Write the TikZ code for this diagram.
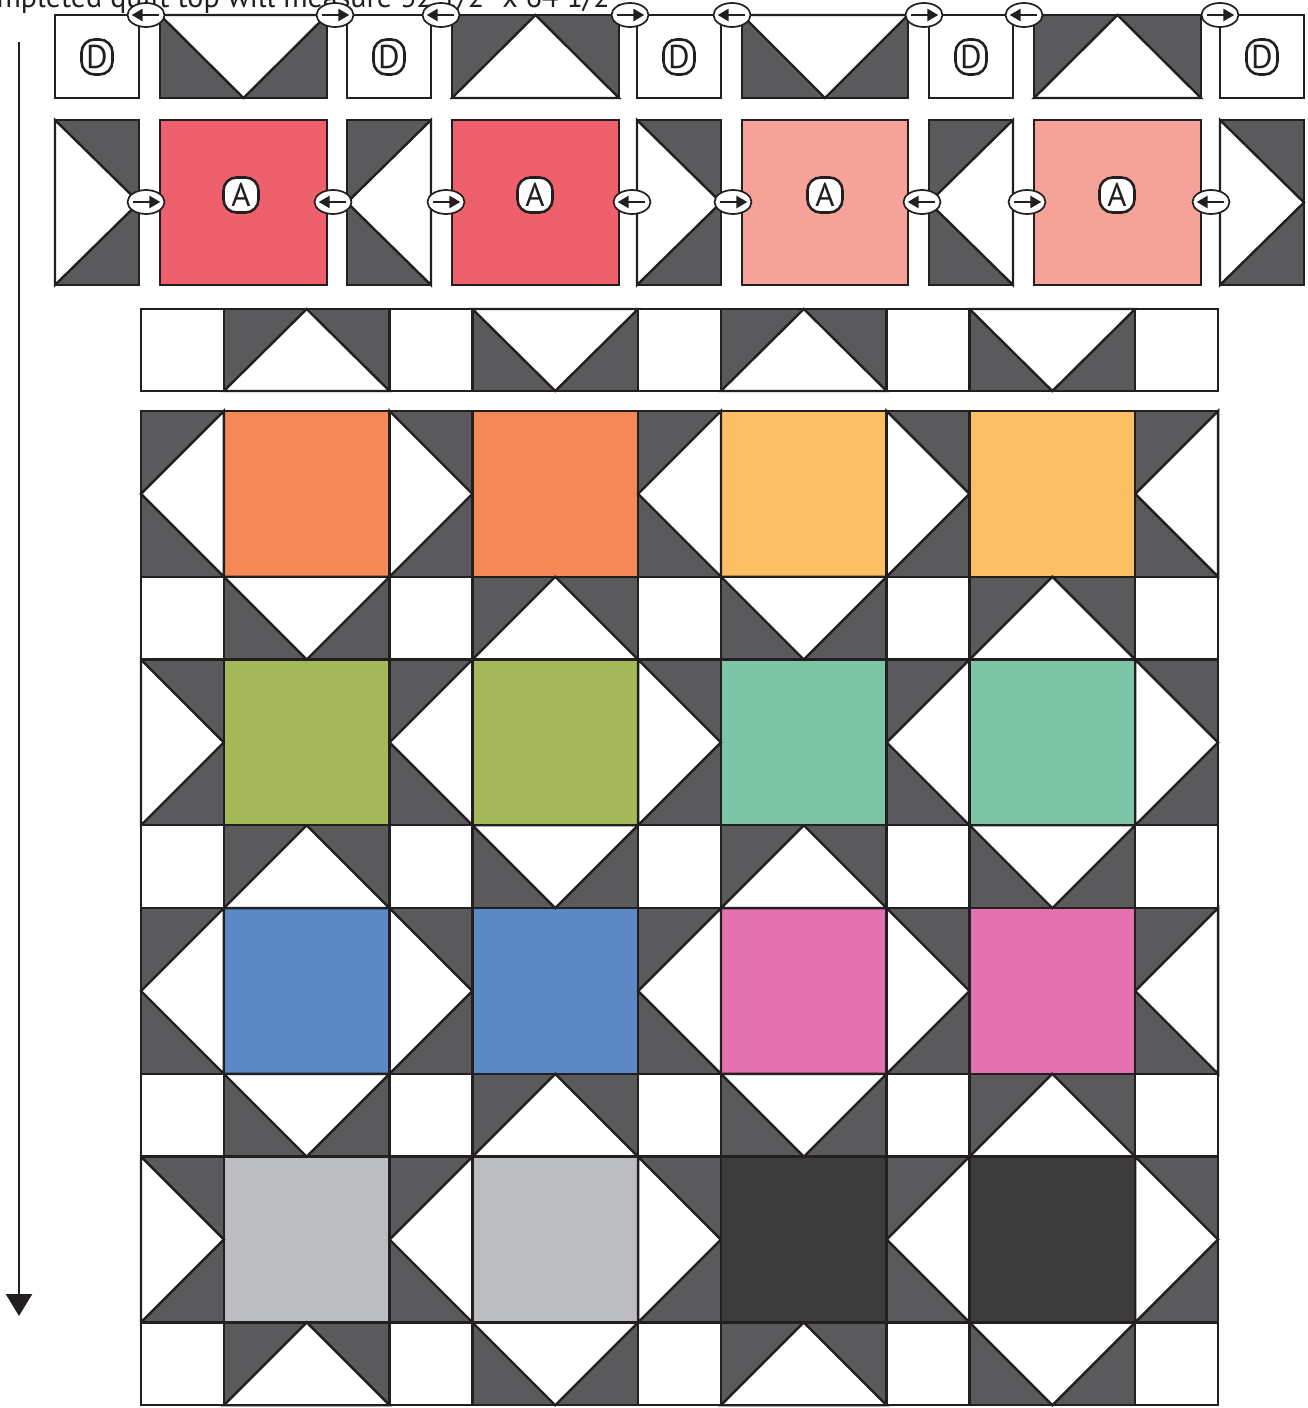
\documentclass[tikz,border=0pt]{standalone}
\usepackage{fontspec}
\setmainfont{PT Sans}
\usetikzlibrary{arrows.meta,shapes.geometric}
\definecolor{dk}{HTML}{5A5A5C}
\definecolor{ln}{HTML}{231F20}
\definecolor{qre}{HTML}{EE606B}
\definecolor{qsa}{HTML}{F5A398}
\definecolor{qor}{HTML}{F58857}
\definecolor{qye}{HTML}{FCBF64}
\definecolor{qgr}{HTML}{A6B95A}
\definecolor{qte}{HTML}{7CC6A7}
\definecolor{qbl}{HTML}{5B89C5}
\definecolor{qpk}{HTML}{E472AE}
\definecolor{qgy}{HTML}{BCBDC0}
\definecolor{qdk}{HTML}{3C3C3C}
\tikzset{
  qline/.style={draw=ln, line width=2.4pt, line join=miter},
  marker/.style={ellipse, draw=ln, fill=white, line width=1.7pt, minimum width=37pt, minimum height=24pt, inner sep=0pt},
  markarrow/.style={draw=ln, line width=2.4pt, -{Triangle[length=11pt,width=12pt]}},
  lab/.style={draw=ln, fill=white, line width=2.6pt, rounded corners=13pt, minimum height=35pt, inner sep=0pt, text=ln, font=\fontsize{33}{33}\selectfont},
}
\newcommand{\QS}[5]{\filldraw[qline,fill=#5] ({#1},{#2}) rectangle ({#3},{#4});}
\newcommand{\QV}[4]{\fill[dk] ({#1},{#2}) rectangle ({#3},{#4});
  \filldraw[qline,fill=white] ({#1},{#2}) -- ({#3},{#2}) -- ({(#1+#3)/2},{#4}) -- cycle;
  \draw[qline] ({#1},{#2}) rectangle ({#3},{#4});}
\newcommand{\QA}[4]{\fill[dk] ({#1},{#2}) rectangle ({#3},{#4});
  \filldraw[qline,fill=white] ({#1},{#4}) -- ({#3},{#4}) -- ({(#1+#3)/2},{#2}) -- cycle;
  \draw[qline] ({#1},{#2}) rectangle ({#3},{#4});}
\newcommand{\QR}[4]{\fill[dk] ({#1},{#2}) rectangle ({#3},{#4});
  \filldraw[qline,fill=white] ({#1},{#2}) -- ({#1},{#4}) -- ({#3},{(#2+#4)/2}) -- cycle;
  \draw[qline] ({#1},{#2}) rectangle ({#3},{#4});}
\newcommand{\QL}[4]{\fill[dk] ({#1},{#2}) rectangle ({#3},{#4});
  \filldraw[qline,fill=white] ({#3},{#2}) -- ({#3},{#4}) -- ({#1},{(#2+#4)/2}) -- cycle;
  \draw[qline] ({#1},{#2}) rectangle ({#3},{#4});}
\newcommand{\GX}[1]{141+(#1)*82.85}
\newcommand{\GY}[1]{411+(#1)*82.85}
\begin{document}
\begin{tikzpicture}[x=1pt,y=-1pt]
\useasboundingbox (0,0) rectangle (1307,1408);

% title (cut off at the top of the page, as in the reference)
\node[anchor=base east, inner sep=0pt, text=ln, font=\fontsize{30}{31}\selectfont] (title) at (623,7) {Completed quilt top will measure 32 1/2" x 64 1/2".};

% assembly arrow
\coordinate (arrtop) at (19,42);
\coordinate (arrbot) at (19,1316);
\draw[draw=ln, fill=ln, line width=2.5pt, -{Triangle[length=22pt,width=26pt]}] (arrtop) -- (arrbot);

% ---------- row 1 ----------
\QS{55}{15}{139}{98}{white}
\QV{160}{15}{327}{98}
\QS{347}{15}{431}{98}{white}
\QA{452}{15}{619}{98}
\QS{637}{15}{721}{98}{white}
\QV{742}{15}{908}{98}
\QS{929}{15}{1013}{98}{white}
\QA{1034}{15}{1201}{98}
\QS{1220}{15}{1304}{98}{white}
\node[lab, minimum width=31pt] (d1) at (97,57) {D};
\node[lab, minimum width=31pt] (d2) at (389,57) {D};
\node[lab, minimum width=31pt] (d3) at (679,57) {D};
\node[lab, minimum width=31pt] (d4) at (971,57) {D};
\node[lab, minimum width=31pt] (d5) at (1262,57) {D};

% ---------- row 2 ----------
\QR{55}{120}{139}{285}
\QS{160}{120}{327}{285}{qre}
\QL{347}{120}{431}{285}
\QS{452}{120}{619}{285}{qre}
\QR{637}{120}{721}{285}
\QS{742}{120}{908}{285}{qsa}
\QL{929}{120}{1013}{285}
\QS{1034}{120}{1201}{285}{qsa}
\QR{1220}{120}{1304}{285}
\node[lab, minimum width=35pt] (a1) at (241,195) {A};
\node[lab, minimum width=35pt] (a2) at (535,195) {A};
\node[lab, minimum width=35pt] (a3) at (825,195) {A};
\node[lab, minimum width=35pt] (a4) at (1117,195) {A};

% ---------- row 3 ----------
\foreach \i in {0,3,6,9,12} \QS{\GX{\i}}{309}{\GX{\i+1}}{391}{white};
\foreach \i [count=\k] in {1,4,7,10} {
  \pgfmathtruncatemacro\t{mod(\k+1,2)}
  \ifnum\t=1 \QV{\GX{\i}}{309}{\GX{\i+2}}{391}\else\QA{\GX{\i}}{309}{\GX{\i+2}}{391}\fi
}

% ---------- assembled quilt: big rows ----------
\foreach \j/\ca/\cb/\p in {0/qor/qye/0, 3/qgr/qte/1, 6/qbl/qpk/0, 9/qgy/qdk/1} {
  \foreach \i/\c in {1/\ca,4/\ca,7/\cb,10/\cb}
    \QS{\GX{\i}}{\GY{\j}}{\GX{\i+2}}{\GY{\j+2}}{\c};
  \foreach \i [count=\k] in {0,3,6,9,12} {
    \pgfmathtruncatemacro\t{mod(\k+\p,2)}
    \ifnum\t=1 \QL{\GX{\i}}{\GY{\j}}{\GX{\i+1}}{\GY{\j+2}}\else\QR{\GX{\i}}{\GY{\j}}{\GX{\i+1}}{\GY{\j+2}}\fi
  }
}
% ---------- assembled quilt: goose rows ----------
\foreach \j/\p in {2/0,5/1,8/0,11/1} {
  \foreach \i in {0,3,6,9,12} \QS{\GX{\i}}{\GY{\j}}{\GX{\i+1}}{\GY{\j+1}}{white};
  \foreach \i [count=\k] in {1,4,7,10} {
    \pgfmathtruncatemacro\t{mod(\k+\p,2)}
    \ifnum\t=1 \QV{\GX{\i}}{\GY{\j}}{\GX{\i+2}}{\GY{\j+1}}\else\QA{\GX{\i}}{\GY{\j}}{\GX{\i+2}}{\GY{\j+1}}\fi
  }
}

% ---------- pressing markers ----------
\foreach \n/\x/\y/\d in {t1/146/15/l, t2/335/15/r, t3/441/15/l, t4/630/15/r, t5/732/15/l, t6/924/15/r, t7/1024/15/l, t8/1220/15/r,
                         b1/146/202/r, b2/333/202/l, b3/446/202/r, b4/632/202/l, b5/733/202/r, b6/922/202/l, b7/1027/202/r, b8/1211/202/l} {
  \node[marker] (\n) at (\x,\y) {};
  \if\d r
    \draw[markarrow] ([xshift=6pt]\n.west) -- ([xshift=-5pt]\n.east);
  \else
    \draw[markarrow] ([xshift=-6pt]\n.east) -- ([xshift=5pt]\n.west);
  \fi
}
\end{tikzpicture}
\end{document}
